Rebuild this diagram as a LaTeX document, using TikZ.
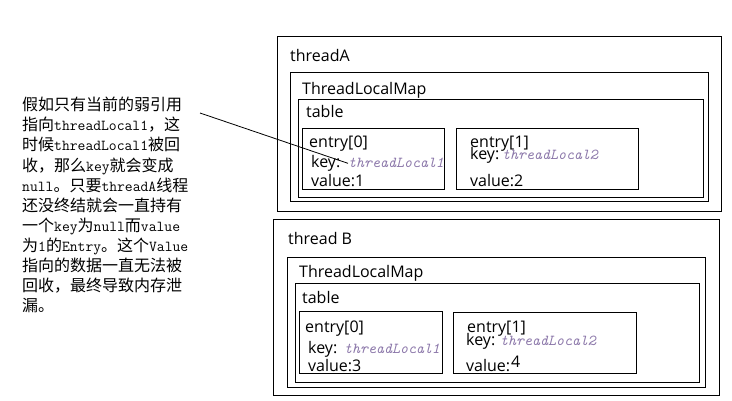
\documentclass[tikz,border=0pt]{standalone}
\usepackage{fontspec}
\setmainfont{Open Sans}
\newfontfamily\cjkfont{Noto Sans CJK SC}
\newcommand\en[1]{{\ttfamily\fontsize{15.2}{20.1}\selectfont #1}}
\definecolor{tlc}{RGB}{140,120,170}
\tikzset{
  box/.style={draw=black, line width=1pt, anchor=north west, inner sep=0pt},
  lbl/.style={anchor=base west, inner sep=0pt, font=\fontsize{16}{18}\selectfont},
  tl/.style={anchor=base west, inner sep=0pt, text=tlc, font=\ttfamily\itshape\fontsize{15.2}{16}\selectfont},
}
\begin{document}
\begin{tikzpicture}[x=1pt,y=-1pt]
\useasboundingbox (0,0) rectangle (732,401);
% thread A
\node[box, minimum width=444pt, minimum height=175pt] (tA) at (277,36) {};
\node[box, minimum width=418pt, minimum height=129pt] (mA) at (290,72) {};
\node[box, minimum width=405pt, minimum height=98pt] (tbA) at (298,99) {};
\node[box, minimum width=142pt, minimum height=61pt] (eA0) at (302,128) {};
\node[box, minimum width=182pt, minimum height=61pt] (eA1) at (456,128) {};
\node[lbl] (ltA) at (290,62) {threadA};
\node[lbl] (lmA) at (302,95) {ThreadLocalMap};
\node[lbl] (ltbA) at (306,118) {table};
\node[lbl] (le0A) at (309,148) {entry[0]};
\node[lbl] (kA0) at (311,168) {key:};
\node[tl] (tlA1) at (348,168) {threadLocal1};
\node[lbl] (vA0) at (311,187) {value:1};
\node[lbl] (le1A) at (470,148) {entry[1]};
\node[lbl] (kA1) at (470,160) {key:};
\node[tl] (tlA2) at (502,160) {threadLocal2};
\node[lbl] (vA1) at (470,187) {value:2};
% thread B
\node[box, minimum width=446pt, minimum height=176pt] (tB) at (273,219) {};
\node[box, minimum width=418pt, minimum height=130pt] (mB) at (287,257) {};
\node[box, minimum width=404pt, minimum height=99pt] (tbB) at (295,283) {};
\node[box, minimum width=143pt, minimum height=62pt] (eB0) at (299,311) {};
\node[box, minimum width=183pt, minimum height=61pt] (eB1) at (453,312) {};
\node[lbl] (ltB) at (288,245) {thread B};
\node[lbl] (lmB) at (299,278) {ThreadLocalMap};
\node[lbl] (ltbB) at (302,303) {table};
\node[lbl] (le0B) at (305,332) {entry[0]};
\node[lbl] (kB0) at (308,353) {key:};
\node[tl] (tlB1) at (344,353) {threadLocal1};
\node[lbl] (vB0) at (308,371) {value:3};
\node[lbl] (le1B) at (467,332) {entry[1]};
\node[lbl] (kB1) at (466,345) {key:};
\node[tl] (tlB2) at (500,345) {threadLocal2};
\node[lbl] (vB1) at (466,371) {value:};
\node[lbl] (vB1n) at (511,367) {4};
% note text
\node[anchor=north west, inner sep=0pt, align=left,
      font=\cjkfont\fontsize{16}{20.1}\selectfont] (note) at (22,97) {%
假如只有当前的弱引用\\
指向\en{threadLocal1}，这\\
时候\en{threadLocal1}被回\\
收，那么\en{key}就会变成\\
\en{null}。只要\en{threadA}线程\\
还没终结就会一直持有\\
一个\en{key}为\en{null}而\en{value}\\
为\en{1}的\en{Entry}。这个\en{Value}\\
指向的数据一直无法被\\
回收，最终导致内存泄\\
漏。};
\coordinate (p) at (200,113);
\draw[line width=0.8pt] (p) -- (tlA1.west);
\end{tikzpicture}
\end{document}
